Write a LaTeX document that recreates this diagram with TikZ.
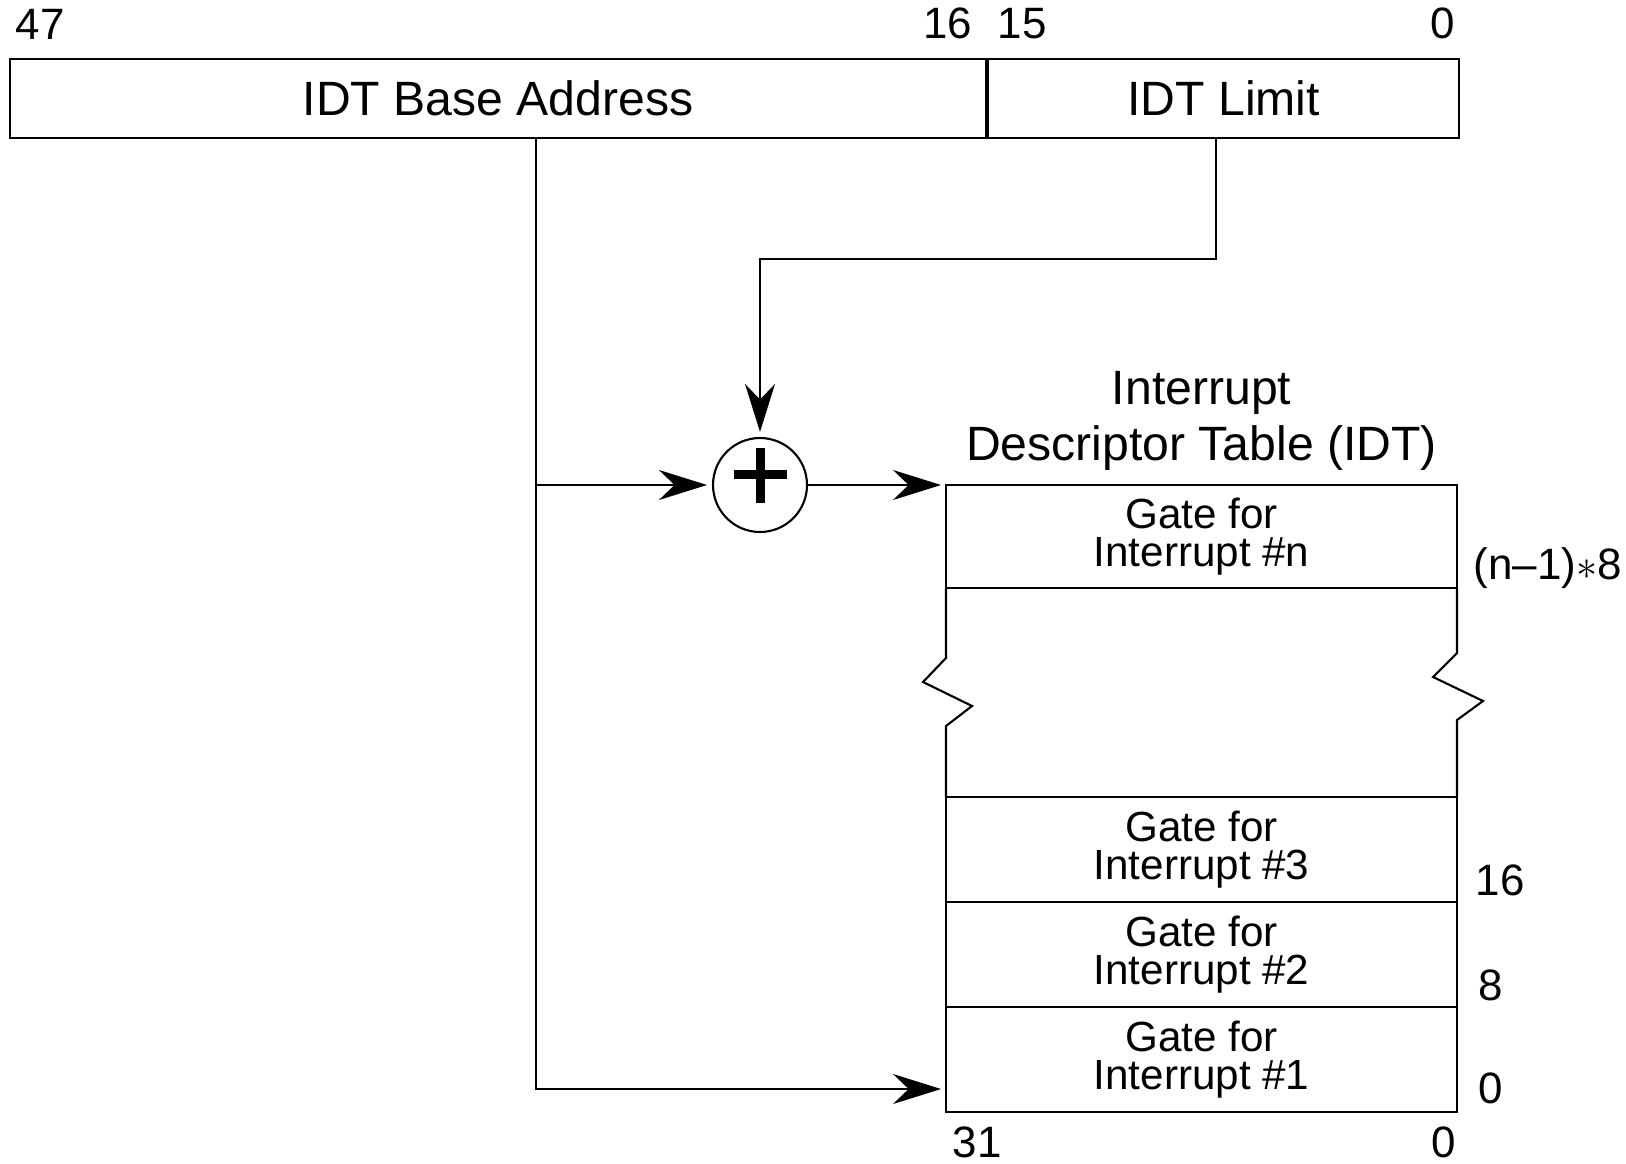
\documentclass[tikz,border=0pt]{standalone}
\usepackage{fontspec}
\setmainfont{Liberation Sans}
\usetikzlibrary{arrows.meta,positioning,calc}

\begin{document}
\begin{tikzpicture}[
  >={Stealth[length=0.48cm, width=0.30cm]},
  field/.style={draw, line width=0.6pt, minimum height=0.79cm, inner sep=0pt,
                font=\fontsize{13.7}{16}\selectfont},
  gate/.style={draw, line width=0.6pt, minimum width=5.11cm, minimum height=1.05cm,
               align=center, inner sep=0pt, outer sep=0pt, font=\fontsize{12}{11}\selectfont},
  bitno/.style={inner sep=0pt, font=\fontsize{12.5}{14}\selectfont},
  sumcirc/.style={draw, circle, line width=0.6pt, minimum size=0.94cm, inner sep=0pt},
  plus/.style={line width=0.09cm},
  arr/.style={->, line width=0.5pt, shorten >=0.05cm},
  wire/.style={line width=0.6pt},
]
\useasboundingbox (0,0) rectangle (16.26,-11.64);

% IDTR register
\node[field, minimum width=9.76cm] (base) at (4.98,-0.985) {IDT Base Address};
\node[field, minimum width=4.71cm, right=0cm of base] (limit) {IDT Limit};

\node[bitno, above right=0.18cm and 0.06cm of base.north west] (b47) {47};
\node[bitno, above left=0.18cm and 0.14cm of base.north east] (b16) {16};
\node[bitno, above right=0.18cm and 0.10cm of limit.north west] (b15) {15};
\node[bitno, above left=0.18cm and 0.05cm of limit.north east] (b0) {0};

% adder
\node[sumcirc] (sum) at (7.60,-4.85) {};
\draw[plus] ($(sum.center)+(-0.265,0.10)$) -- ++(0.53,0)
            ($(sum.center)+(0,0.37)$) -- ++(0,-0.55);

% descriptor table
\node[gate, minimum height=1.03cm] (gaten) at (12.015,-5.365) {Gate for\\Interrupt \#n};
\node[gate, below=2.09cm of gaten] (gate3) {Gate for\\Interrupt \#3};
\node[gate, below=0cm of gate3] (gate2) {Gate for\\Interrupt \#2};
\node[gate, below=0cm of gate2] (gate1) {Gate for\\Interrupt \#1};

\node[above=0.14cm of gaten, align=center, inner sep=0pt,
      font=\fontsize{13.7}{16}\selectfont] (idttitle) {Interrupt\\Descriptor Table (IDT)};

% broken sides
\draw[wire] (gaten.south west) -- ++(0,-0.70) -- ++(-0.23,-0.24) -- ++(0.49,-0.24)
  -- ++(-0.26,-0.20) -- (gate3.north west);
\draw[wire] (gaten.south east) -- ++(0,-0.65) -- ++(-0.24,-0.24) -- ++(0.50,-0.24)
  -- ++(-0.26,-0.19) -- (gate3.north east);

% offsets
\node[bitno, anchor=base west] (offn) at ([xshift=0.16cm, yshift=0.09cm]gaten.south east) {(n--1)$\ast$8};
\node[bitno, anchor=base west] (off3) at ([xshift=0.18cm, yshift=0.07cm]gate3.south east) {16};
\node[bitno, anchor=base west] (off2) at ([xshift=0.21cm, yshift=0.07cm]gate2.south east) {8};
\node[bitno, anchor=base west] (off1) at ([xshift=0.21cm, yshift=0.09cm]gate1.south east) {0};

\node[bitno, below right=0.14cm and 0.06cm of gate1.south west] (t31) {31};
\node[bitno, below left=0.14cm and 0cm of gate1.south east] (t0) {0};

% connections
\coordinate (baseout) at (5.36,-1.38);
\coordinate (limitout) at (12.16,-1.38);
\coordinate (turn) at (12.16,-2.59);

\draw[arr] (baseout |- sum.west) -- (sum.west);
\draw[arr] (baseout) |- ([yshift=0.23cm]gate1.south west);
\draw[arr] (limitout) -- (turn) -| (sum.north);
\draw[arr] (sum.east) -- (gaten.north west);
\end{tikzpicture}
\end{document}
